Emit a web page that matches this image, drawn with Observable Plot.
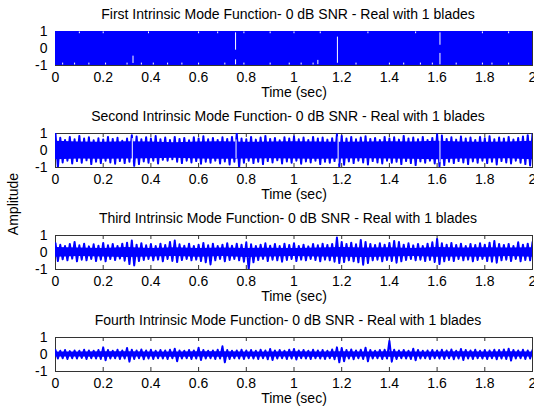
<!DOCTYPE html>
<html><head><meta charset="utf-8">
<script src="https://cdn.jsdelivr.net/npm/d3@7"></script>
<script src="https://cdn.jsdelivr.net/npm/@observablehq/plot@0.6"></script>
<style>
body{margin:0;background:#fff;}
#chart{position:relative;width:534px;height:411px;overflow:hidden;font-family:"Liberation Sans",Arial,Helvetica,sans-serif;}
#chart svg{position:absolute;left:0;display:block;}
#ylab{position:absolute;left:13px;top:204px;transform:translate(-50%,-50%) rotate(-90deg);font-size:14px;white-space:nowrap;color:#000;}
</style></head>
<body><div id="chart"><div id="ylab">Amplitude</div></div>
<script>
// ---- labels ----
const titles = [
  "First Intrinsic Mode Function- 0 dB SNR - Real with 1 blades",
  "Second Intrinsic Mode Function- 0 dB SNR - Real with 1 blades",
  "Third Intrinsic Mode Function- 0 dB SNR - Real with 1 blades",
  "Fourth Intrinsic Mode Function- 0 dB SNR - Real with 1 blades"
];
const xLabel = "Time (sec)";
const xTicks = [0, 0.2, 0.4, 0.6, 0.8, 1, 1.2, 1.4, 1.6, 1.8, 2];
const yTicks = [-1, 0, 1];

// ---- IMF 1: solid band (clipped at the axes), every 0.1 s ----
const p1CoreStep = 0.1;
const p1CoreHi = [1,1,1,1,1,1,1,1,1,1,1,1,1,1,1,1,1,1,1,1,1];
const p1CoreLo = [-1,-1,-1,-1,-1,-1,-1,-1,-1,-1,-1,-1,-1,-1,-1,-1,-1,-1,-1,-1,-1];
const p1GapTime   = [0.325, 0.755, 0.755, 1.182, 1.612, 1.612, 1.10,
  0.1,0.2,0.39,0.6,0.68,0.79,0.9,1.0,1.11,1.31,1.51,1.79,1.9,
  0.03,0.08,0.14,0.21,0.3,0.36,0.41,0.47,0.53,0.6,0.71,0.79,0.9,0.98,1.03,1.08,1.26,1.4,1.46,1.53,1.58,1.68,1.79,1.83,1.9];
const p1GapTop    = [-0.45, 0.92, -0.67, 0.67, 0.92, -0.29, -0.7,
  0.97,0.97,0.97,0.97,0.97,0.97,0.97,0.97,0.97,0.97,0.97,0.97,0.97,
  -0.86,-0.86,-0.86,-0.86,-0.86,-0.86,-0.86,-0.86,-0.86,-0.86,-0.86,-0.86,-0.86,-0.86,-0.86,-0.86,-0.86,-0.86,-0.86,-0.86,-0.86,-0.86,-0.86,-0.86,-0.86];
const p1GapBottom = [-0.88, -0.1, -0.96, -0.87, 0.19, -0.96, -0.95,
  0.87,0.87,0.87,0.87,0.87,0.87,0.87,0.87,0.87,0.87,0.87,0.87,0.87,
  -0.97,-0.97,-0.97,-0.97,-0.97,-0.97,-0.97,-0.97,-0.97,-0.97,-0.97,-0.97,-0.97,-0.97,-0.97,-0.97,-0.97,-0.97,-0.97,-0.97,-0.97,-0.97,-0.97,-0.97,-0.97];

// ---- IMF 2: dense core (every 0.1 s) and spike peaks (every 0.02 s) ----
const p2CoreStep = 0.1;
const p2CoreHi = [0.55,0.5,0.48,0.52,0.5,0.45,0.5,0.52,0.48,0.5,0.52,0.5,0.48,0.5,0.52,0.5,0.55,0.5,0.48,0.5,0.55];
const p2CoreLo = [-0.55,-0.5,-0.52,-0.5,-0.48,-0.45,-0.5,-0.52,-0.5,-0.48,-0.5,-0.52,-0.5,-0.48,-0.5,-0.52,-0.55,-0.5,-0.5,-0.48,-0.55];
const p2PeakStep = 0.02;
const p2PeakHi = [1.0,0.75,0.62,0.8,0.66,0.86,0.7,0.78,0.6,0.72,
  0.65,0.8,0.68,0.75,0.58,0.7,0.9,0.82,0.66,0.78,
  0.7,0.85,0.66,0.76,0.62,0.8,0.68,0.74,0.6,0.78,
  0.7,0.84,0.66,0.74,0.62,0.78,0.68,0.8,1.0,0.7,
  0.66,0.8,0.64,0.76,0.86,0.68,0.74,0.6,0.78,0.7,
  0.82,0.66,0.76,0.62,0.8,0.7,0.76,0.64,0.72,0.95,
  0.86,0.7,0.8,0.66,0.76,0.84,0.68,0.74,0.62,0.8,
  0.7,0.78,0.64,0.86,0.7,0.76,0.66,0.8,0.62,0.74,
  0.95,0.88,0.68,0.78,0.64,0.82,0.7,0.76,0.62,0.8,
  0.72,0.84,0.66,0.76,0.7,0.8,0.64,0.74,0.82,0.9,1.0];
const p2PeakLo = [-1.0,-0.7,-0.6,-0.76,-0.62,-0.72,-0.58,-0.8,-0.66,-0.74,
  -0.6,-0.7,-0.78,-0.62,-0.74,-0.66,-0.9,-0.8,-0.64,-0.72,
  -0.6,-0.76,-0.55,-0.6,-0.52,-0.66,-0.74,-0.6,-0.7,-0.62,
  -0.78,-0.66,-0.72,-0.6,-0.76,-0.64,-0.82,-0.66,-0.98,-0.72,
  -0.6,-0.74,-0.66,-0.8,-0.62,-0.7,-0.58,-0.76,-0.64,-0.72,
  -0.6,-0.78,-0.64,-0.7,-0.6,-0.8,-0.66,-0.72,-0.62,-0.95,
  -0.84,-0.64,-0.74,-0.6,-0.7,-0.82,-0.62,-0.7,-0.76,-0.6,
  -0.72,-0.66,-0.8,-0.62,-0.74,-0.86,-0.64,-0.72,-0.6,-0.76,
  -0.94,-0.86,-0.66,-0.74,-0.62,-0.7,-0.8,-0.64,-0.72,-0.6,
  -0.74,-0.66,-0.82,-0.62,-0.7,-0.76,-0.6,-0.72,-0.8,-0.88,-1.0];
const p2GapTime   = [0.322, 0.757, 1.185, 1.612];
const p2GapTop    = [0.7, 0.62, 0.8, 0.8];
const p2GapBottom = [-0.62, -0.48, -0.8, -0.72];

// ---- IMF 3 ----
const p3CoreStep = 0.1;
const p3CoreHi = [0.3,0.26,0.24,0.3,0.24,0.28,0.24,0.26,0.24,0.25,0.24,0.26,0.3,0.26,0.28,0.24,0.3,0.26,0.28,0.26,0.28];
const p3CoreLo = [-0.28,-0.24,-0.26,-0.3,-0.26,-0.24,-0.28,-0.24,-0.3,-0.26,-0.24,-0.26,-0.28,-0.3,-0.26,-0.24,-0.28,-0.26,-0.28,-0.24,-0.28];
const p3PeakStep = 0.02;
const p3PeakHi = [0.55,0.45,0.38,0.5,0.62,0.42,0.52,0.36,0.48,0.4,
  0.56,0.42,0.5,0.38,0.52,0.58,0.7,0.46,0.55,0.42,
  0.5,0.38,0.52,0.44,0.62,0.7,0.48,0.4,0.52,0.38,
  0.46,0.56,0.42,0.52,0.38,0.46,0.55,0.4,0.52,0.46,
  0.6,0.48,0.38,0.46,0.54,0.4,0.5,0.38,0.52,0.44,
  0.55,0.38,0.46,0.36,0.5,0.42,0.52,0.44,0.5,0.88,
  0.62,0.5,0.58,0.48,0.74,0.62,0.5,0.44,0.54,0.46,
  0.56,0.68,0.62,0.46,0.54,0.42,0.5,0.38,0.52,0.6,
  0.8,0.54,0.46,0.56,0.44,0.52,0.38,0.5,0.44,0.54,
  0.46,0.58,0.68,0.5,0.44,0.5,0.38,0.6,0.46,0.52,0.6];
const p3PeakLo = [-0.5,-0.4,-0.46,-0.36,-0.52,-0.42,-0.46,-0.38,-0.5,-0.42,
  -0.52,-0.38,-0.44,-0.36,-0.48,-0.68,-0.76,-0.5,-0.44,-0.38,
  -0.46,-0.42,-0.52,-0.38,-0.5,-0.56,-0.44,-0.38,-0.46,-0.42,
  -0.5,-0.58,-0.7,-0.46,-0.38,-0.52,-0.44,-0.38,-0.46,-0.54,
  -1.0,-0.58,-0.44,-0.38,-0.5,-0.42,-0.46,-0.54,-0.44,-0.38,
  -0.5,-0.42,-0.46,-0.38,-0.44,-0.52,-0.42,-0.46,-0.54,-0.62,
  -0.56,-0.46,-0.52,-0.58,-0.72,-0.62,-0.46,-0.42,-0.52,-0.44,
  -0.5,-0.6,-0.52,-0.44,-0.38,-0.46,-0.42,-0.5,-0.44,-0.56,
  -0.68,-0.52,-0.44,-0.5,-0.38,-0.46,-0.42,-0.52,-0.44,-0.38,
  -0.5,-0.54,-0.6,-0.46,-0.42,-0.5,-0.38,-0.52,-0.44,-0.46,-0.54];

// ---- IMF 4 ----
const p4CoreStep = 0.1;
const p4CoreHi = [0.14,0.14,0.16,0.16,0.14,0.14,0.16,0.16,0.14,0.14,0.16,0.14,0.16,0.14,0.16,0.14,0.14,0.16,0.14,0.16,0.14];
const p4CoreLo = [-0.14,-0.14,-0.16,-0.14,-0.14,-0.16,-0.14,-0.16,-0.14,-0.14,-0.14,-0.16,-0.16,-0.14,-0.16,-0.14,-0.14,-0.14,-0.16,-0.14,-0.14];
const p4PeakStep = 0.02;
const p4PeakHi = [0.26,0.22,0.26,0.2,0.24,0.22,0.28,0.24,0.22,0.26,
  0.42,0.26,0.22,0.28,0.24,0.38,0.28,0.24,0.3,0.24,
  0.28,0.22,0.26,0.24,0.28,0.34,0.24,0.22,0.26,0.24,
  0.4,0.26,0.22,0.24,0.28,0.48,0.26,0.22,0.24,0.28,
  0.24,0.26,0.22,0.28,0.24,0.32,0.24,0.26,0.22,0.28,
  0.32,0.24,0.26,0.22,0.28,0.24,0.26,0.22,0.3,0.42,
  0.38,0.26,0.3,0.24,0.28,0.4,0.26,0.22,0.26,0.28,
  0.8,0.28,0.24,0.26,0.22,0.34,0.26,0.22,0.24,0.26,
  0.24,0.28,0.24,0.3,0.22,0.32,0.26,0.24,0.28,0.22,
  0.26,0.24,0.28,0.26,0.3,0.34,0.26,0.24,0.28,0.24,0.26];
const p4PeakLo = [-0.24,-0.22,-0.26,-0.22,-0.24,-0.2,-0.26,-0.22,-0.24,-0.26,
  -0.34,-0.24,-0.22,-0.26,-0.24,-0.42,-0.26,-0.22,-0.28,-0.24,
  -0.26,-0.22,-0.24,-0.26,-0.22,-0.4,-0.24,-0.22,-0.26,-0.24,
  -0.32,-0.24,-0.22,-0.26,-0.24,-0.46,-0.26,-0.22,-0.24,-0.26,
  -0.22,-0.24,-0.26,-0.22,-0.28,-0.32,-0.24,-0.22,-0.26,-0.24,
  -0.3,-0.22,-0.24,-0.26,-0.22,-0.24,-0.26,-0.22,-0.28,-0.46,
  -0.4,-0.24,-0.28,-0.22,-0.26,-0.4,-0.24,-0.22,-0.26,-0.24,
  -0.42,-0.26,-0.22,-0.24,-0.26,-0.34,-0.24,-0.22,-0.26,-0.22,
  -0.24,-0.26,-0.22,-0.28,-0.24,-0.32,-0.24,-0.26,-0.22,-0.24,
  -0.26,-0.22,-0.28,-0.24,-0.26,-0.36,-0.24,-0.22,-0.26,-0.24,-0.24];

const panels = [
  {title: titles[0], coreStep: p1CoreStep, coreHi: p1CoreHi, coreLo: p1CoreLo, peakStep: 0, peakHi: [], peakLo: [], gapTime: p1GapTime, gapTop: p1GapTop, gapBottom: p1GapBottom},
  {title: titles[1], coreStep: p2CoreStep, coreHi: p2CoreHi, coreLo: p2CoreLo, peakStep: p2PeakStep, peakHi: p2PeakHi, peakLo: p2PeakLo, gapTime: p2GapTime, gapTop: p2GapTop, gapBottom: p2GapBottom},
  {title: titles[2], coreStep: p3CoreStep, coreHi: p3CoreHi, coreLo: p3CoreLo, peakStep: p3PeakStep, peakHi: p3PeakHi, peakLo: p3PeakLo, gapTime: [], gapTop: [], gapBottom: []},
  {title: titles[3], coreStep: p4CoreStep, coreHi: p4CoreHi, coreLo: p4CoreLo, peakStep: p4PeakStep, peakHi: p4PeakHi, peakLo: p4PeakLo, gapTime: [], gapTop: [], gapBottom: []}
];

const BLUE = "#0000ff";
const AXIS = "#333";
const PANEL_H = 102;
const fmtX = d => String(+(+d).toFixed(1));
const fmtY = d => String(d);

const chart = document.getElementById("chart");
panels.forEach((p, i) => {
  const core = p.coreHi.map((u, k) => ({t: k * p.coreStep, hi: u, lo: p.coreLo[k]}));
  // spike trace: each sample's positive peak followed by its negative peak
  const trace = p.peakHi.flatMap((u, k) => [
    {t: k * p.peakStep, y: u},
    {t: k * p.peakStep + p.peakStep / 2, y: p.peakLo[k]}
  ]).filter(d => d.t <= 2);
  const gaps = p.gapTime.map((t, k) => ({t, hi: p.gapTop[k], lo: p.gapBottom[k]}));
  const svg = Plot.plot({
    width: 534, height: PANEL_H,
    marginLeft: 55, marginRight: 2, marginTop: 31, marginBottom: 37,
    style: {fontFamily: '"Liberation Sans", Arial, Helvetica, sans-serif', fontSize: "14px", background: "transparent", color: "#000"},
    x: {domain: [0, 2]},
    y: {domain: [-1, 1]},
    marks: [
      Plot.frame({stroke: AXIS}),
      Plot.tickX(xTicks, {x: d => d, insetBottom: 30, stroke: AXIS}),
      Plot.tickX(xTicks, {x: d => d, insetTop: 30, stroke: AXIS}),
      Plot.tickY(yTicks, {y: d => d, insetRight: 472, stroke: AXIS}),
      Plot.tickY(yTicks, {y: d => d, insetLeft: 472, stroke: AXIS}),
      Plot.areaY(core, {x: "t", y1: "lo", y2: "hi", fill: BLUE, clip: true}),
      Plot.lineY(trace, {x: "t", y: "y", stroke: BLUE, strokeWidth: 2, clip: true}),
      Plot.ruleX(gaps, {x: "t", y1: "lo", y2: "hi", stroke: "white", strokeWidth: 1, clip: true}),
      Plot.axisX({ticks: xTicks, tickSize: 0, tickPadding: 7, tickFormat: fmtX, label: null}),
      Plot.axisY({ticks: yTicks, tickSize: 0, tickPadding: 8, tickFormat: fmtY, label: null}),
      Plot.text([p.title], {text: d => d, frameAnchor: "top", lineAnchor: "middle", dy: -17, dx: -6, fontSize: 14}),
      Plot.text([xLabel], {text: d => d, frameAnchor: "bottom", lineAnchor: "middle", dy: 27, fontSize: 14})
    ]
  });
  svg.style.top = (i * PANEL_H) + "px";
  chart.appendChild(svg);
});
</script>
</body></html>
